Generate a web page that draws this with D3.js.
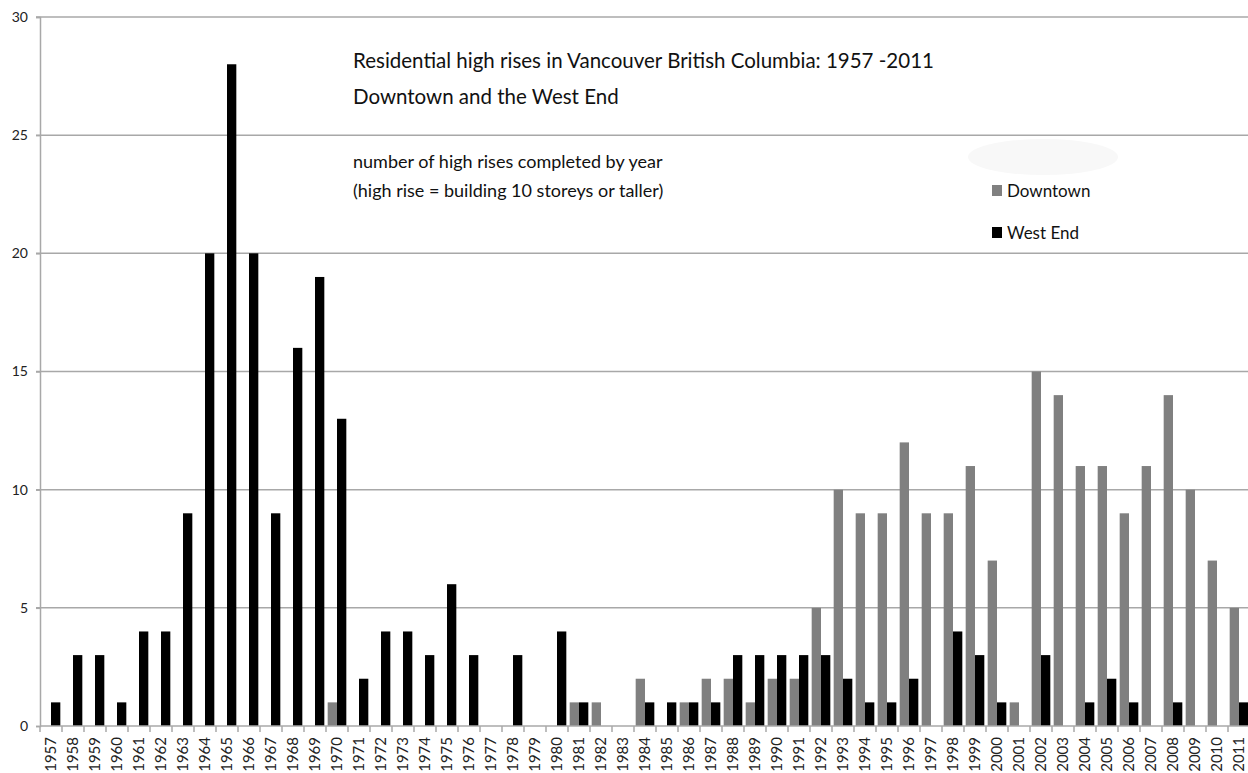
<!DOCTYPE html>
<html>
<head>
<meta charset="utf-8">
<script src="https://cdn.jsdelivr.net/npm/d3@7"></script>
<style>
  body { margin: 0; background: #fff; }
  svg { display: block; font-family: Lato, "Open Sans", sans-serif; }
</style>
</head>
<body>
<div id="container"></div>
<script>
// years 1957..2011
const years = [
  1957, 1958, 1959, 1960, 1961, 1962, 1963, 1964, 1965, 1966,
  1967, 1968, 1969, 1970, 1971, 1972, 1973, 1974, 1975, 1976,
  1977, 1978, 1979, 1980, 1981, 1982, 1983, 1984, 1985, 1986,
  1987, 1988, 1989, 1990, 1991, 1992, 1993, 1994, 1995, 1996,
  1997, 1998, 1999, 2000, 2001, 2002, 2003, 2004, 2005, 2006,
  2007, 2008, 2009, 2010, 2011
];
const downtown = [
  0, 0, 0, 0, 0, 0, 0, 0, 0, 0,
  0, 0, 0, 1, 0, 0, 0, 0, 0, 0,
  0, 0, 0, 0, 1, 1, 0, 2, 0, 1,
  2, 2, 1, 2, 2, 5, 10, 9, 9, 12,
  9, 9, 11, 7, 1, 15, 14, 11, 11, 9,
  11, 14, 10, 7, 5
];
const westEnd = [
  1, 3, 3, 1, 4, 4, 9, 20, 28, 20,
  9, 16, 19, 13, 2, 4, 4, 3, 6, 3,
  0, 3, 0, 4, 1, 0, 0, 1, 1, 1,
  1, 3, 3, 3, 3, 3, 2, 1, 1, 2,
  0, 4, 3, 1, 0, 3, 0, 1, 2, 1,
  0, 1, 0, 0, 1
];
const seriesNames = ["Downtown", "West End"];
const seriesColors = ["#808080", "#000000"];
const yTicks = [0, 5, 10, 15, 20, 25, 30];
const titleLines = ["Residential high rises in Vancouver British Columbia: 1957 -2011", "Downtown and the West End"];
const noteLines = ["number of high rises completed by year", "(high rise = building 10 storeys or taller)"];

const w = 1248, h = 773;
const mLeft = 40, mRight = 1250, mTop = 17, mBottom = 726;

const svg = d3.select('#container').append('svg')
  .attr('width', w)
  .attr('height', h);

const x0 = d3.scaleBand().domain(years).range([mLeft, mRight]).padding(0);
const x1 = d3.scaleBand().domain(seriesNames).range([0, x0.bandwidth()])
  .paddingInner(0).paddingOuter(0.18);
const y = d3.scaleLinear().domain([0, 30]).range([mBottom, mTop]);

// gridlines
svg.append('g')
  .selectAll('line')
  .data(yTicks.filter(d => d > 0))
  .join('line')
  .attr('x1', mLeft - 4)
  .attr('x2', w)
  .attr('y1', d => y(d))
  .attr('y2', d => y(d))
  .attr('stroke', '#a8a8a8')
  .attr('stroke-width', 1.5);

// y axis
const yAxis = d3.axisLeft(y).tickValues(yTicks).tickSize(4).tickPadding(8);
const yg = svg.append('g').attr('transform', `translate(${mLeft},0)`).call(yAxis);
yg.select('.domain').attr('stroke', '#a8a8a8').attr('stroke-width', 1.5);
yg.selectAll('.tick line').attr('stroke', '#a8a8a8').attr('stroke-width', 1.5);
yg.selectAll('.tick text').attr('font-size', 14).attr('fill', '#222')
  .attr('font-family', 'Lato, sans-serif');

// bars
const rows = years.map((yr, i) => ({ year: yr, vals: [downtown[i], westEnd[i]] }));
const groups = svg.append('g').selectAll('g')
  .data(rows)
  .join('g')
  .attr('transform', d => `translate(${x0(d.year)},0)`);
groups.selectAll('rect')
  .data(d => d.vals.map((v, k) => ({ name: seriesNames[k], v: v, k: k })))
  .join('rect')
  .attr('x', d => x1(d.name))
  .attr('width', x1.bandwidth())
  .attr('y', d => y(d.v))
  .attr('height', d => y(0) - y(d.v))
  .attr('fill', d => seriesColors[d.k]);

// x axis
const xAxis = d3.axisBottom(x0).tickSize(0).tickPadding(0);
const xg = svg.append('g').attr('transform', `translate(0,${mBottom})`).call(xAxis);
xg.select('.domain').remove();
xg.selectAll('.tick text')
  .attr('transform', 'rotate(-90)')
  .attr('text-anchor', 'end')
  .attr('dy', '0.36em')
  .attr('x', -11)
  .attr('y', 0)
  .attr('font-size', 15)
  .attr('fill', '#222')
  .attr('font-family', 'Lato, sans-serif');
svg.append('line')
  .attr('x1', mLeft).attr('x2', w)
  .attr('y1', mBottom).attr('y2', mBottom)
  .attr('stroke', '#a8a8a8').attr('stroke-width', 1.5);
svg.append('g').selectAll('line')
  .data(years.concat([null]))
  .join('line')
  .attr('x1', d => d === null ? mRight : x0(d))
  .attr('x2', d => d === null ? mRight : x0(d))
  .attr('y1', mBottom)
  .attr('y2', mBottom + 6)
  .attr('stroke', '#a8a8a8').attr('stroke-width', 1.5);

// titles
svg.append('g').selectAll('text')
  .data(titleLines)
  .join('text')
  .attr('x', 353)
  .attr('y', (d, i) => 68 + i * 36)
  .attr('font-size', 20.5)
  .attr('fill', '#111')
  .text(d => d);
svg.append('g').selectAll('text')
  .data(noteLines)
  .join('text')
  .attr('x', 353)
  .attr('y', (d, i) => 168 + i * 29)
  .attr('font-size', 18)
  .attr('fill', '#111')
  .text(d => d);

// legend
svg.append('ellipse')
  .attr('cx', 1043).attr('cy', 157).attr('rx', 75).attr('ry', 18)
  .attr('fill', '#f8f8f8');
const leg = svg.append('g').selectAll('g')
  .data(seriesNames)
  .join('g')
  .attr('transform', (d, i) => `translate(992,${185 + i * 42})`);
leg.append('rect')
  .attr('width', 10).attr('height', 11)
  .attr('fill', (d, i) => seriesColors[i]);
leg.append('text')
  .attr('x', 15).attr('y', 12)
  .attr('font-size', 17)
  .attr('fill', '#111')
  .text(d => d);
</script>
</body>
</html>
